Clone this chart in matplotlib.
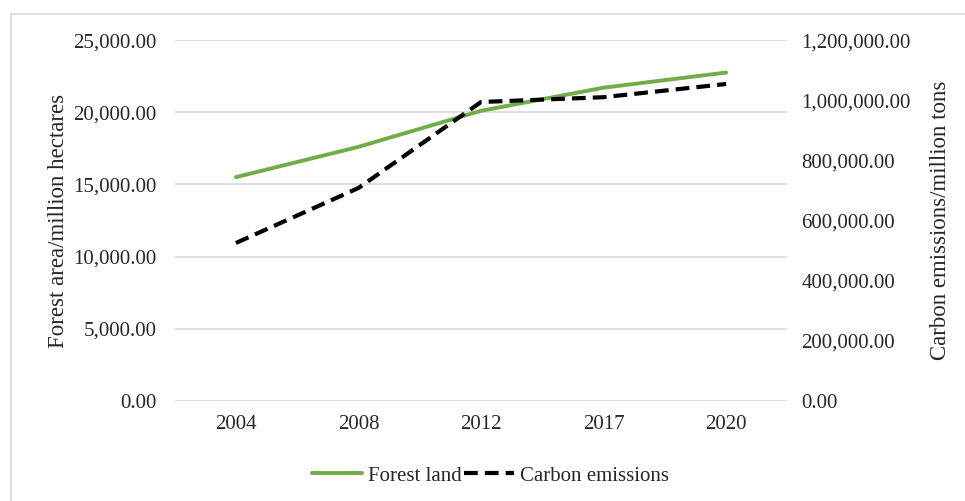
import matplotlib.pyplot as plt
from matplotlib.patches import Rectangle
from matplotlib.ticker import FuncFormatter

# data
years = ['2004', '2008', '2012', '2017', '2020']
forest_land = [15500, 17600, 20100, 21700, 22750]
carbon_emissions = [525000, 708000, 994000, 1010000, 1054000]

plt.rcParams['font.family'] = ['Liberation Serif', 'DejaVu Serif']

fig = plt.figure(figsize=(9.65, 5.01), dpi=100)
ax = fig.add_axes([0.181, 0.2, 0.635, 0.72])
ax2 = ax.twinx()

x = list(range(len(years)))
l1, = ax.plot(x, forest_land, color='#70AD47', lw=2.8, solid_capstyle='round',
              label='Forest land', zorder=3)
l2, = ax2.plot(x, carbon_emissions, color='black', lw=3.0, ls=(0, (3.3, 1.7)),
               label='Carbon emissions', zorder=4)

ax.set_xlim(-0.5, len(years) - 0.5)
ax.set_ylim(0, 25000)
ax.set_yticks(range(0, 25001, 5000))
ax2.set_ylim(0, 1200000)
ax2.set_yticks(range(0, 1200001, 200000))
ax.set_xticks(x)
ax.set_xticklabels(years)

fmt = FuncFormatter(lambda v, p: f'{v:,.2f}')
ax.yaxis.set_major_formatter(fmt)
ax2.yaxis.set_major_formatter(fmt)

ax.grid(axis='y', color='#D9D9D9', lw=1.2)
ax.set_axisbelow(True)
for a in (ax, ax2):
    for s in a.spines.values():
        s.set_visible(False)
    a.tick_params(length=0, labelsize=15, colors='#262626')
ax.tick_params(axis='y', pad=13)
ax2.tick_params(axis='y', pad=10)
ax.tick_params(axis='x', pad=10)

ax.set_ylabel('Forest area/million hectares', fontsize=16.5, color='#262626', labelpad=3)
ax2.set_ylabel('Carbon emissions/million tons', fontsize=16.5, color='#262626',
               rotation=90, labelpad=14)

fig.legend(handles=[l1, l2], loc='center', bbox_to_anchor=(0.508, 0.05), ncol=2,
           frameon=False, fontsize=15, handlelength=2.4, columnspacing=0.1,
           handletextpad=0.3, labelcolor='#262626')

fig.patches.append(Rectangle((11 / 965, -0.1), 1.1, 1 - 14 / 501 + 0.1,
                             transform=fig.transFigure, fill=False,
                             edgecolor='#D9D9D9', lw=1.2))

fig.savefig('out.png', dpi=100)
